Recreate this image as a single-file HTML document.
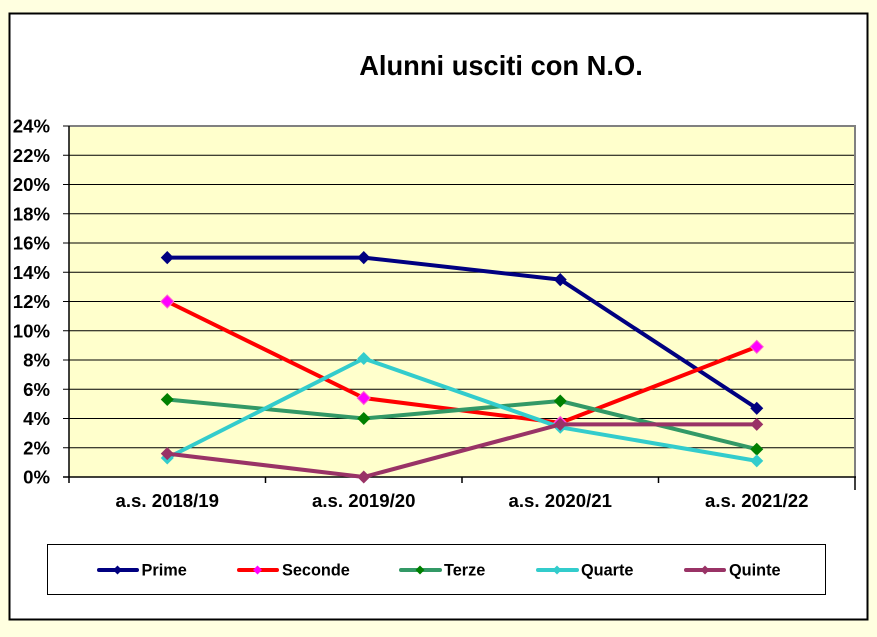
<!DOCTYPE html>
<html><head><meta charset="utf-8"><style>
html,body{margin:0;padding:0;background:#FFFFE0;}
svg{display:block;}
text{font-family:"Liberation Sans",Arial,sans-serif;font-weight:bold;fill:#000;}
</style></head><body>
<svg width="877" height="637" viewBox="0 0 877 637" xmlns="http://www.w3.org/2000/svg">
<rect x="0" y="0" width="877" height="637" fill="#FFFFE0"/>
<rect x="9.5" y="13.5" width="858" height="606" fill="#fff" stroke="#000" stroke-width="2"/>
<text x="501" y="75" font-size="27.3" text-anchor="middle">Alunni usciti con N.O.</text>
<!-- plot area -->
<rect x="69" y="126" width="786" height="351" fill="#FFFFCC"/>
<g stroke="#000" stroke-width="1">
<line x1="63" y1="155.25" x2="855" y2="155.25"/>
<line x1="63" y1="184.5" x2="855" y2="184.5"/>
<line x1="63" y1="213.75" x2="855" y2="213.75"/>
<line x1="63" y1="243" x2="855" y2="243"/>
<line x1="63" y1="272.25" x2="855" y2="272.25"/>
<line x1="63" y1="301.5" x2="855" y2="301.5"/>
<line x1="63" y1="330.75" x2="855" y2="330.75"/>
<line x1="63" y1="360" x2="855" y2="360"/>
<line x1="63" y1="389.25" x2="855" y2="389.25"/>
<line x1="63" y1="418.5" x2="855" y2="418.5"/>
<line x1="63" y1="447.75" x2="855" y2="447.75"/>
<line x1="63" y1="126" x2="69" y2="126"/>
</g>
<line x1="69" y1="126" x2="856" y2="126" stroke="#808080" stroke-width="2"/>
<line x1="855" y1="126" x2="855" y2="477" stroke="#808080" stroke-width="2"/>
<g stroke="#000" stroke-width="1.5">
<line x1="69" y1="126" x2="69" y2="483"/>
<line x1="63" y1="477" x2="856" y2="477"/>
<line x1="265.5" y1="477" x2="265.5" y2="483"/>
<line x1="462" y1="477" x2="462" y2="483"/>
<line x1="658.5" y1="477" x2="658.5" y2="483"/>
<line x1="855" y1="477" x2="855" y2="490"/>
</g>
<!-- y labels -->
<g font-size="18.6" text-anchor="end">
<text x="50" y="132.5">24%</text>
<text x="50" y="161.75">22%</text>
<text x="50" y="191">20%</text>
<text x="50" y="220.25">18%</text>
<text x="50" y="249.5">16%</text>
<text x="50" y="278.75">14%</text>
<text x="50" y="308">12%</text>
<text x="50" y="337.25">10%</text>
<text x="50" y="366.5">8%</text>
<text x="50" y="395.75">6%</text>
<text x="50" y="425">4%</text>
<text x="50" y="454.25">2%</text>
<text x="50" y="483.5">0%</text>
</g>
<!-- x labels -->
<g font-size="18.6" text-anchor="middle">
<text x="167.25" y="507">a.s. 2018/19</text>
<text x="363.75" y="507">a.s. 2019/20</text>
<text x="560.25" y="507">a.s. 2020/21</text>
<text x="756.75" y="507">a.s. 2021/22</text>
</g>
<!-- series -->
<g fill="none" stroke-width="4" stroke-linejoin="round">
<polyline stroke="#000080" points="167.25,257.6 363.75,257.6 560.25,279.6 756.75,408.3"/>
</g>
<g fill="#000080">
<path d="M167.25 251 l6.5 6.6 l-6.5 6.6 l-6.5 -6.6z"/>
<path d="M363.75 251 l6.5 6.6 l-6.5 6.6 l-6.5 -6.6z"/>
<path d="M560.25 273 l6.5 6.6 l-6.5 6.6 l-6.5 -6.6z"/>
<path d="M756.75 401.7 l6.5 6.6 l-6.5 6.6 l-6.5 -6.6z"/>
</g>
<polyline fill="none" stroke="#FF0000" stroke-width="4" stroke-linejoin="round" points="167.25,301.5 363.75,398 560.25,422.9 756.75,346.8"/>
<g fill="#FF00FF" stroke="#FF66CC" stroke-width="1">
<path d="M167.25 295 l6.5 6.5 l-6.5 6.5 l-6.5 -6.5z"/>
<path d="M363.75 391.5 l6.5 6.5 l-6.5 6.5 l-6.5 -6.5z"/>
<path d="M560.25 416.4 l6.5 6.5 l-6.5 6.5 l-6.5 -6.5z"/>
<path d="M756.75 340.3 l6.5 6.5 l-6.5 6.5 l-6.5 -6.5z"/>
</g>
<polyline fill="none" stroke="#339966" stroke-width="4" stroke-linejoin="round" points="167.25,399.5 363.75,418.5 560.25,401 756.75,449.2"/>
<g fill="#008000">
<path d="M167.25 393 l6.5 6.5 l-6.5 6.5 l-6.5 -6.5z"/>
<path d="M363.75 412 l6.5 6.5 l-6.5 6.5 l-6.5 -6.5z"/>
<path d="M560.25 394.5 l6.5 6.5 l-6.5 6.5 l-6.5 -6.5z"/>
<path d="M756.75 442.7 l6.5 6.5 l-6.5 6.5 l-6.5 -6.5z"/>
</g>
<polyline fill="none" stroke="#33CCCC" stroke-width="4" stroke-linejoin="round" points="167.25,458 363.75,358.5 560.25,427.3 756.75,460.9"/>
<g fill="#33CCCC">
<path d="M167.25 451.5 l6.5 6.5 l-6.5 6.5 l-6.5 -6.5z"/>
<path d="M363.75 352 l6.5 6.5 l-6.5 6.5 l-6.5 -6.5z"/>
<path d="M560.25 420.8 l6.5 6.5 l-6.5 6.5 l-6.5 -6.5z"/>
<path d="M756.75 454.4 l6.5 6.5 l-6.5 6.5 l-6.5 -6.5z"/>
</g>
<polyline fill="none" stroke="#993366" stroke-width="4" stroke-linejoin="round" points="167.25,453.6 363.75,477 560.25,424.4 756.75,424.4"/>
<g fill="#993366">
<path d="M167.25 447.1 l6.5 6.5 l-6.5 6.5 l-6.5 -6.5z"/>
<path d="M363.75 470.5 l6.5 6.5 l-6.5 6.5 l-6.5 -6.5z"/>
<path d="M560.25 417.9 l6.5 6.5 l-6.5 6.5 l-6.5 -6.5z"/>
<path d="M756.75 417.9 l6.5 6.5 l-6.5 6.5 l-6.5 -6.5z"/>
</g>
<!-- legend -->
<rect x="47.5" y="544.5" width="778" height="50" fill="#fff" stroke="#000" stroke-width="1"/>
<g stroke-width="4" stroke-linecap="round">
<line x1="99" y1="570" x2="137" y2="570" stroke="#000080"/>
<line x1="239" y1="570" x2="277" y2="570" stroke="#FF0000"/>
<line x1="401" y1="570" x2="440" y2="570" stroke="#339966"/>
<line x1="538" y1="570" x2="577" y2="570" stroke="#33CCCC"/>
<line x1="686" y1="570" x2="724" y2="570" stroke="#993366"/>
</g>
<path d="M117.5 565.5 l4.5 4.5 l-4.5 4.5 l-4.5 -4.5z" fill="#000080"/>
<path d="M257.5 565.5 l4.5 4.5 l-4.5 4.5 l-4.5 -4.5z" fill="#FF00FF"/>
<path d="M420 565.5 l4.5 4.5 l-4.5 4.5 l-4.5 -4.5z" fill="#008000"/>
<path d="M557 565.5 l4.5 4.5 l-4.5 4.5 l-4.5 -4.5z" fill="#33CCCC"/>
<path d="M705 565.5 l4.5 4.5 l-4.5 4.5 l-4.5 -4.5z" fill="#993366"/>
<g font-size="16.3">
<text x="141.5" y="575.5">Prime</text>
<text x="282" y="575.5">Seconde</text>
<text x="444" y="575.5">Terze</text>
<text x="581" y="575.5">Quarte</text>
<text x="729" y="575.5">Quinte</text>
</g>
</svg>
</body></html>
